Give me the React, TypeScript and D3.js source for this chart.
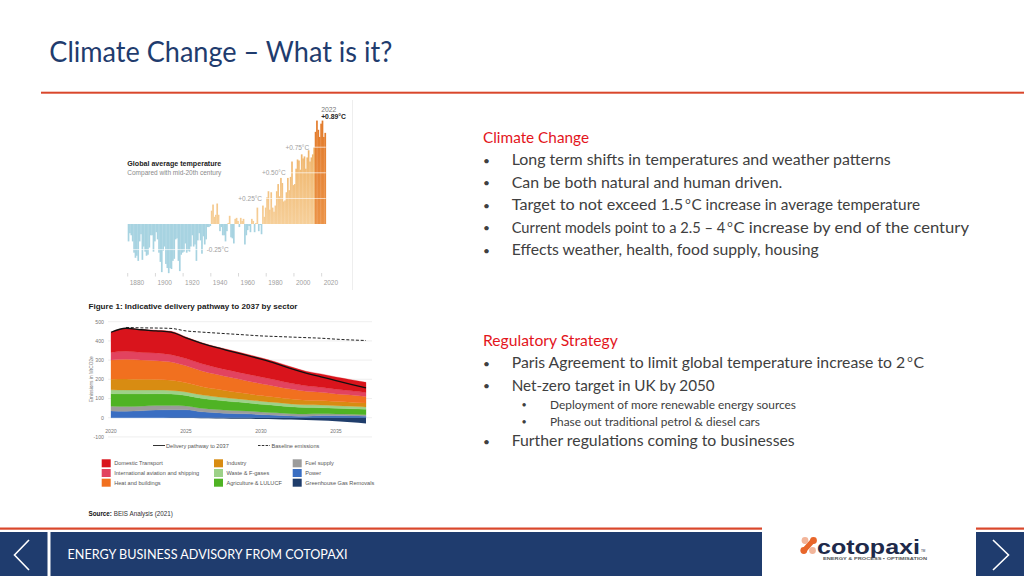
import * as d3 from 'd3'
import { useRef, useEffect } from 'react'

// Global average temperature, difference from mid-20th century (°C), 1880..2022
const tempYears = d3.range(1880, 2023)
const tempAnomaly = [
  -0.17, -0.09, -0.11, -0.17, -0.28, -0.33, -0.31, -0.36, -0.17, -0.10,
  -0.35, -0.22, -0.27, -0.31, -0.30, -0.23, -0.11, -0.11, -0.27, -0.17,
  -0.08, -0.15, -0.28, -0.37, -0.47, -0.26, -0.22, -0.39, -0.43, -0.48,
  -0.43, -0.44, -0.36, -0.34, -0.15, -0.14, -0.36, -0.46, -0.30, -0.28,
  -0.27, -0.19, -0.28, -0.26, -0.27, -0.22, -0.11, -0.22, -0.20, -0.36,
  -0.16, -0.09, -0.16, -0.29, -0.12, -0.20, -0.15, -0.03, -0.03, -0.02,
  0.13, 0.19, 0.07, 0.09, 0.20, 0.09, -0.07, -0.03, -0.11, -0.11,
  -0.17, -0.07, 0.01, 0.08, -0.13, -0.14, -0.19, 0.05, 0.06, 0.03,
  -0.03, 0.06, 0.03, 0.05, -0.20, -0.11, -0.06, -0.02, -0.08, 0.05,
  0.03, -0.08, 0.01, 0.16, -0.07, -0.01, -0.10, 0.18, 0.07, 0.16,
  0.26, 0.32, 0.14, 0.31, 0.16, 0.12, 0.18, 0.32, 0.39, 0.27,
  0.45, 0.40, 0.22, 0.23, 0.31, 0.45, 0.33, 0.46, 0.61, 0.38,
  0.39, 0.54, 0.63, 0.62, 0.53, 0.68, 0.64, 0.66, 0.54, 0.65,
  0.72, 0.61, 0.65, 0.68, 0.75, 0.90, 1.01, 0.92, 0.85, 0.98,
  1.01, 0.85, 0.89,
]
const tempTickYears = [1880, 1900, 1920, 1940, 1960, 1980, 2000, 2020]
const tempGridValues = [-0.25, 0.25, 0.5, 0.75]
const tempGridLabels = ['-0.25°C', '+0.25°C', '+0.50°C', '+0.75°C']
const tempGridLabelYears = [1937, 1977, 1994, 2011]
const tempGridLabelAnchors = ['start', 'end', 'end', 'end']

// Indicative delivery pathway by sector (MtCO2e), 2020..2037
const sectorYears = [2020, 2021, 2022, 2023, 2024, 2025, 2026, 2027, 2028, 2029, 2030, 2031, 2032, 2033, 2034, 2035, 2036, 2037]
const power = [35, 33, 36, 40, 41, 41, 31, 26, 22, 20, 16, 13, 9, 8, 10, 10, 9, 8]
const fuelSupply = [25, 25, 24, 23, 22, 20, 18, 17, 16, 15, 14, 13, 12, 11, 10, 9, 9, 8]
const agriculture = [65, 66, 64, 62, 60, 55, 52, 49, 46, 43, 40, 38, 36, 34, 32, 30, 29, 28]
const wasteFgases = [20, 20, 20, 19, 19, 18, 18, 17, 17, 16, 16, 15, 15, 14, 14, 13, 13, 12]
const industry = [55, 58, 56, 55, 53, 48, 44, 40, 36, 32, 29, 27, 25, 24, 23, 22, 21, 20]
const heatBuildings = [100, 102, 100, 98, 95, 88, 82, 77, 72, 67, 62, 57, 52, 47, 43, 40, 37, 35]
const aviationShipping = [40, 42, 40, 40, 38, 38, 37, 36, 36, 35, 35, 33, 30, 28, 26, 24, 22, 20]
const domesticTransport = [105, 120, 120, 118, 122, 112, 110, 108, 106, 104, 100, 94, 86, 76, 70, 64, 58, 53]
const ggRemovals = [0, 0, 0, 0, -1, -2, -3, -4, -5, -6, -7, -8, -10, -12, -15, -19, -24, -30]
const deliveryPathway = [445, 466, 458, 452, 446, 416, 389, 366, 346, 326, 305, 282, 255, 232, 213, 193, 174, 155]
const baselineEmissions = [null, 470, 468, 467, 465, 452, 446, 441, 436, 431, 426, 423, 420, 417, 414, 409, 405, 402]
const sectorYTicks = [-100, 0, 100, 200, 300, 400, 500]
const sectorXTicks = [2020, 2025, 2030, 2035]

const stackKeys = ['power', 'fuel', 'agri', 'waste', 'industry', 'heat', 'aviation', 'transport']
const stackColors = {
    power: '#3a6ec2', fuel: '#9c9c9c', agri: '#4fb324', waste: '#9dd188',
    industry: '#d88c12', heat: '#f1701f', aviation: '#e2435f', transport: '#d9141c',
}
const legendLabels = ['Domestic Transport', 'International aviation and shipping', 'Heat and buildings',
    'Industry', 'Waste & F-gases', 'Agriculture & LULUCF', 'Fuel supply', 'Power', 'Greenhouse Gas Removals']
const legendColors = ['#d9141c', '#e2435f', '#f1701f', '#d88c12', '#9dd188', '#4fb324', '#9c9c9c', '#3a6ec2', '#1f3d6b']

const NAVY = '#1f3c6e'
const SLIDE_RED = '#d9472b'
const BODY = '#404040'
const HEAD_RED = '#e3151c'
const BODY_FONT = "Lato, 'Open Sans', sans-serif"
const CHART_FONT = "'Liberation Sans', Arial, sans-serif"

function drawTemperature(node) {
    const g = d3.select(node)
    g.selectAll('*').remove()
    const x = d3.scaleLinear().domain([1880, 2023]).range([127.7, 325.8])
    const y = d3.scaleLinear().domain([-0.25, 0.75]).range([249.6, 147.2])

    const defs = g.append('defs')
    const light = defs.append('linearGradient').attr('id', 'tempLight')
        .attr('gradientUnits', 'userSpaceOnUse')
        .attr('x1', 0).attr('x2', 0).attr('y1', y(0)).attr('y2', y(1))
    light.append('stop').attr('offset', 0).attr('stop-color', '#f6cf99')
    light.append('stop').attr('offset', 1).attr('stop-color', '#eca956')
    const dark = defs.append('linearGradient').attr('id', 'tempDark')
        .attr('gradientUnits', 'userSpaceOnUse')
        .attr('x1', 0).attr('x2', 0).attr('y1', y(0)).attr('y2', y(1))
    dark.append('stop').attr('offset', 0).attr('stop-color', '#eb9246')
    dark.append('stop').attr('offset', 1).attr('stop-color', '#e27a2a')

    g.append('g').selectAll('rect')
        .data(tempAnomaly)
        .join('rect')
        .attr('x', (d, i) => x(tempYears[i]))
        .attr('width', (d, i) => x(tempYears[i] + 1) - x(tempYears[i]) + 0.3)
        .attr('y', d => Math.min(y(d), y(0)))
        .attr('height', d => Math.abs(y(d) - y(0)))
        .attr('fill', (d, i) => d < 0 ? '#a7d3e1' : (tempYears[i] >= 2015 ? 'url(#tempDark)' : 'url(#tempLight)'))

    // white grid lines over the bars
    g.append('g').selectAll('line')
        .data(tempGridValues)
        .join('line')
        .attr('x1', x(1880)).attr('x2', x(2023))
        .attr('y1', d => y(d)).attr('y2', d => y(d))
        .attr('stroke', '#fff').attr('stroke-width', 0.8).attr('opacity', 0.85)
    g.append('g').selectAll('text')
        .data(tempGridLabels)
        .join('text')
        .attr('x', (d, i) => x(tempGridLabelYears[i]))
        .attr('y', (d, i) => y(tempGridValues[i]) + 2.3)
        .attr('text-anchor', (d, i) => tempGridLabelAnchors[i])
        .attr('font-size', 6.5)
        .attr('font-family', CHART_FONT)
        .attr('fill', '#a0a0a0')
        .text(d => d)

    // x axis ticks
    g.append('g').selectAll('line')
        .data(tempTickYears)
        .join('line')
        .attr('x1', d => x(d)).attr('x2', d => x(d))
        .attr('y1', 273).attr('y2', 276.5)
        .attr('stroke', '#c8c8c8').attr('stroke-width', 0.7)
    g.append('g').selectAll('text')
        .data(tempTickYears)
        .join('text')
        .attr('x', d => x(d) + 2)
        .attr('y', 284.5)
        .attr('font-size', 6.5)
        .attr('font-family', CHART_FONT)
        .attr('fill', '#a0a0a0')
        .text(d => d)

    const last = tempAnomaly[tempAnomaly.length - 1]
    g.append('text').attr('x', x(2020) - 0.5).attr('y', 111.5)
        .attr('font-size', 6.8).attr('font-family', CHART_FONT).attr('fill', '#777')
        .text(tempYears[tempYears.length - 1])
    g.append('text').attr('x', x(2020) - 0.5).attr('y', 118.5)
        .attr('font-size', 6.8).attr('font-weight', 'bold').attr('font-family', CHART_FONT).attr('fill', '#222')
        .text(`+${last.toFixed(2)}°C`)

    g.append('text').attr('x', 127.3).attr('y', 166)
        .attr('font-size', 8).attr('font-weight', 'bold').attr('font-family', CHART_FONT).attr('fill', '#222')
        .attr('textLength', 94).attr('lengthAdjust', 'spacingAndGlyphs')
        .text('Global average temperature')
    g.append('text').attr('x', 127.3).attr('y', 174.5)
        .attr('font-size', 7).attr('font-family', CHART_FONT).attr('fill', '#8a8a8a')
        .attr('textLength', 94).attr('lengthAdjust', 'spacingAndGlyphs')
        .text('Compared with mid-20th century')

    g.append('line').attr('x1', 352.5).attr('x2', 352.5).attr('y1', 100).attr('y2', 290)
        .attr('stroke', '#eeeeee').attr('stroke-width', 1)
}

function drawSectors(node) {
    const g = d3.select(node)
    g.selectAll('*').remove()
    const sx = d3.scaleLinear().domain([2020, 2037]).range([111, 366])
    const sy = d3.scaleLinear().domain([-100, 500]).range([436.9, 321.7])

    g.append('text').attr('x', 88.5).attr('y', 309)
        .attr('font-size', 8).attr('font-weight', 'bold').attr('font-family', CHART_FONT).attr('fill', '#1a1a1a')
        .attr('textLength', 209).attr('lengthAdjust', 'spacingAndGlyphs')
        .text('Figure 1: Indicative delivery pathway to 2037 by sector')

    g.append('g').selectAll('line')
        .data(sectorYTicks)
        .join('line')
        .attr('x1', 108).attr('x2', 372)
        .attr('y1', d => sy(d)).attr('y2', d => sy(d))
        .attr('stroke', '#e8e8e8').attr('stroke-width', 0.7)
    g.append('g').selectAll('text')
        .data(sectorYTicks)
        .join('text')
        .attr('x', 104).attr('y', d => sy(d) + 1.8)
        .attr('text-anchor', 'end')
        .attr('font-size', 5.2).attr('font-family', CHART_FONT).attr('fill', '#777')
        .text(d => d)
    g.append('g').selectAll('text')
        .data(sectorXTicks)
        .join('text')
        .attr('x', d => sx(d)).attr('y', 432.5)
        .attr('text-anchor', 'middle')
        .attr('font-size', 5.2).attr('font-family', CHART_FONT).attr('fill', '#777')
        .text(d => d)
    g.append('text')
        .attr('transform', `translate(92.5, ${sy(200)}) rotate(-90)`)
        .attr('text-anchor', 'middle')
        .attr('font-size', 4.8).attr('font-family', CHART_FONT).attr('fill', '#777')
        .text('Emissions in MtCO2e')

    const rows = sectorYears.map((yr, i) => ({
        year: yr, power: power[i], fuel: fuelSupply[i], agri: agriculture[i], waste: wasteFgases[i],
        industry: industry[i], heat: heatBuildings[i], aviation: aviationShipping[i], transport: domesticTransport[i],
    }))
    const series = d3.stack().keys(stackKeys)(rows)
    const area = d3.area()
        .x(d => sx(d.data.year))
        .y0(d => sy(d[0]))
        .y1(d => sy(d[1]))
        .curve(d3.curveMonotoneX)
    g.append('g').selectAll('path')
        .data(series)
        .join('path')
        .attr('fill', d => stackColors[d.key])
        .attr('stroke', d => stackColors[d.key])
        .attr('stroke-width', 0.3)
        .attr('d', area)

    const removalArea = d3.area()
        .x((d, i) => sx(sectorYears[i]))
        .y0(sy(0))
        .y1(d => sy(d))
        .curve(d3.curveMonotoneX)
    g.append('path').datum(ggRemovals).attr('fill', '#1f3d6b').attr('d', removalArea)

    const line = d3.line()
        .defined(d => d != null)
        .x((d, i) => sx(sectorYears[i]))
        .y(d => sy(d))
        .curve(d3.curveMonotoneX)
    g.append('path').datum(deliveryPathway)
        .attr('fill', 'none').attr('stroke', '#111').attr('stroke-width', 1.3)
        .attr('d', line)
    g.append('path').datum(baselineEmissions)
        .attr('fill', 'none').attr('stroke', '#222').attr('stroke-width', 1)
        .attr('stroke-dasharray', '3,1.8')
        .attr('d', line)

    // legend: lines
    g.append('line').attr('x1', 153).attr('x2', 165).attr('y1', 445.5).attr('y2', 445.5)
        .attr('stroke', '#333').attr('stroke-width', 1)
    g.append('text').attr('x', 166).attr('y', 447.5)
        .attr('font-size', 5.6).attr('font-family', CHART_FONT).attr('fill', '#555')
        .text('Delivery pathway to 2037')
    g.append('line').attr('x1', 258).attr('x2', 270).attr('y1', 445.5).attr('y2', 445.5)
        .attr('stroke', '#333').attr('stroke-width', 1).attr('stroke-dasharray', '2.5,1.3')
    g.append('text').attr('x', 271.5).attr('y', 447.5)
        .attr('font-size', 5.6).attr('font-family', CHART_FONT).attr('fill', '#555')
        .text('Baseline emissions')

    const colX = [101.7, 214, 292.7]
    const rowY = [463.3, 473, 482.7]
    const items = g.append('g').selectAll('g')
        .data(legendLabels)
        .join('g')
        .attr('transform', (d, i) => `translate(${colX[Math.floor(i / 3)]}, ${rowY[i % 3]})`)
    items.append('rect').attr('x', 0).attr('y', -4).attr('width', 9).attr('height', 8)
        .attr('fill', (d, i) => legendColors[i])
    items.append('text').attr('x', 12.5).attr('y', 2)
        .attr('font-size', 5.6).attr('font-family', CHART_FONT).attr('fill', '#555')
        .text(d => d)

    const src = g.append('text').attr('x', 88.5).attr('y', 516)
        .attr('font-size', 6.3).attr('font-family', CHART_FONT).attr('fill', '#333')
    src.append('tspan').attr('font-weight', 'bold').attr('fill', '#111').text('Source: ')
    src.append('tspan').text('BEIS Analysis (2021)')
}

function Dot({ x, y, size }) {
    return <text x={x} y={y} fontSize={size} fill={BODY} fontFamily={BODY_FONT}>•</text>
}

function Bullet({ y, text, width }) {
    return (
        <g>
            <Dot x={483} y={y - 0.5} size={12} />
            <text x={511.7} y={y} fontSize={16} fill={BODY} fontFamily={BODY_FONT}
                textLength={width} lengthAdjust='spacingAndGlyphs'>{text}</text>
        </g>
    )
}

// bullet whose text carries a superscript "o" (degrees): before / o / after, each placed on its own
function DegreeBullet({ y, before, beforeEnd, beforeSize, after, afterEnd }) {
    return (
        <g>
            <Dot x={483} y={y - 0.5} size={12} />
            <text x={511.7} y={y} fontSize={beforeSize} fill={BODY} fontFamily={BODY_FONT}
                textLength={beforeEnd - 512.5} lengthAdjust='spacingAndGlyphs'>{before}</text>
            <text x={beforeEnd + 1.2} y={y - 6} fontSize={9.5} fill={BODY} fontFamily={BODY_FONT}>o</text>
            <text x={beforeEnd + 7.4} y={y} fontSize={16} fill={BODY} fontFamily={BODY_FONT}
                textLength={afterEnd - beforeEnd - 7.4} lengthAdjust='spacingAndGlyphs'>{after}</text>
        </g>
    )
}

function SubBullet({ y, text, width }) {
    return (
        <g>
            <Dot x={521.5} y={y - 0.5} size={9} />
            <text x={550} y={y} fontSize={11.5} fill={BODY} fontFamily={BODY_FONT}
                textLength={width} lengthAdjust='spacingAndGlyphs'>{text}</text>
        </g>
    )
}

function App() {
    const tempRef = useRef(null)
    const sectorRef = useRef(null)

    useEffect(() => {
        drawTemperature(tempRef.current)
        drawSectors(sectorRef.current)
    }, [])

    return (
        <svg width={1024} height={576} viewBox='0 0 1024 576'
            style={{ position: 'absolute', left: 0, top: 0, display: 'block', background: '#fff' }}>
            <rect x={0} y={0} width={1024} height={576} fill='#fff' />

            {/* title */}
            <text x={49.3} y={61.5} fontSize={28} fill={NAVY} fontFamily={BODY_FONT}
                textLength={343} lengthAdjust='spacingAndGlyphs'>Climate Change – What is it?</text>
            <rect x={41} y={91.7} width={983} height={2} fill={SLIDE_RED} />

            <g ref={tempRef}></g>
            <g ref={sectorRef}></g>

            {/* climate change text */}
            <text x={483} y={143} fontSize={16} fill={HEAD_RED} fontFamily={BODY_FONT}
                textLength={106} lengthAdjust='spacingAndGlyphs'>Climate Change</text>
            <Bullet y={165.3} width={379} text='Long term shifts in temperatures and weather patterns' />
            <Bullet y={187.8} width={270.6} text='Can be both natural and human driven.' />
            <DegreeBullet y={210.3} before='Target to not exceed 1.5' beforeEnd={684} beforeSize={15.6}
                after='C increase in average temperature' afterEnd={920} />
            <DegreeBullet y={232.8} before='Current models point to a 2.5 – 4' beforeEnd={726} beforeSize={14.6}
                after='C increase by end of the century' afterEnd={969} />
            <Bullet y={255.3} width={307} text='Effects weather, health, food supply, housing' />

            {/* regulatory strategy text */}
            <text x={483} y={345.5} fontSize={16} fill={HEAD_RED} fontFamily={BODY_FONT}
                textLength={134.7} lengthAdjust='spacingAndGlyphs'>Regulatory Strategy</text>
            <DegreeBullet y={368} before='Paris Agreement to limit global temperature increase to 2' beforeEnd={906} beforeSize={15.2}
                after='C' afterEnd={924} />
            <Bullet y={390.5} width={203} text='Net-zero target in UK by 2050' />
            <SubBullet y={408.8} width={246} text='Deployment of more renewable energy sources' />
            <SubBullet y={425.5} width={210} text='Phase out traditional petrol & diesel cars' />
            <Bullet y={446} width={283} text='Further regulations coming to businesses' />

            {/* footer */}
            <rect x={0} y={527.5} width={762} height={2.2} fill={SLIDE_RED} />
            <rect x={976} y={527.5} width={48} height={2.2} fill={SLIDE_RED} />
            <rect x={0} y={532} width={47.5} height={44} fill={NAVY} />
            <rect x={50.5} y={532} width={711.5} height={44} fill={NAVY} />
            <rect x={976} y={532} width={48} height={44} fill={NAVY} />
            <polyline points='29,540 14.5,555 29,570' fill='none' stroke='#fff' strokeWidth={1.6} />
            <polyline points='993,540 1008.5,555 993,570' fill='none' stroke='#fff' strokeWidth={1.6} />
            <text x={67.5} y={559} fontSize={12.5} fill='#fff' fontFamily={BODY_FONT}
                textLength={280} lengthAdjust='spacingAndGlyphs'>ENERGY BUSINESS ADVISORY FROM COTOPAXI</text>

            {/* logo */}
            <g>
                <line x1={813} y1={540.5} x2={804} y2={550.5} stroke='#e8662a' strokeWidth={5} strokeLinecap='round' />
                <circle cx={805} cy={540.5} r={3.4} fill='#f2b59a' />
                <circle cx={813.5} cy={540.5} r={3.4} fill='#e8662a' />
                <circle cx={803.8} cy={550.5} r={3.4} fill='#e8662a' />
                <circle cx={812.5} cy={550.5} r={3.4} fill='#f2b59a' />
                <text x={817} y={553.5} fontSize={20} fontWeight='bold' fill='#1e2a4a' fontFamily={CHART_FONT}
                    textLength={103} lengthAdjust='spacingAndGlyphs'>cotopaxi</text>
                <text x={921} y={552} fontSize={3} fill='#1e2a4a' fontFamily={CHART_FONT}>TM</text>
                <text x={823} y={560} fontSize={4.3} fill='#555' fontFamily={CHART_FONT} fontWeight='bold'
                    textLength={104} lengthAdjust='spacingAndGlyphs'>ENERGY &amp; PROCESS ▪ OPTIMISATION</text>
            </g>
        </svg>
    )
}

export default App
